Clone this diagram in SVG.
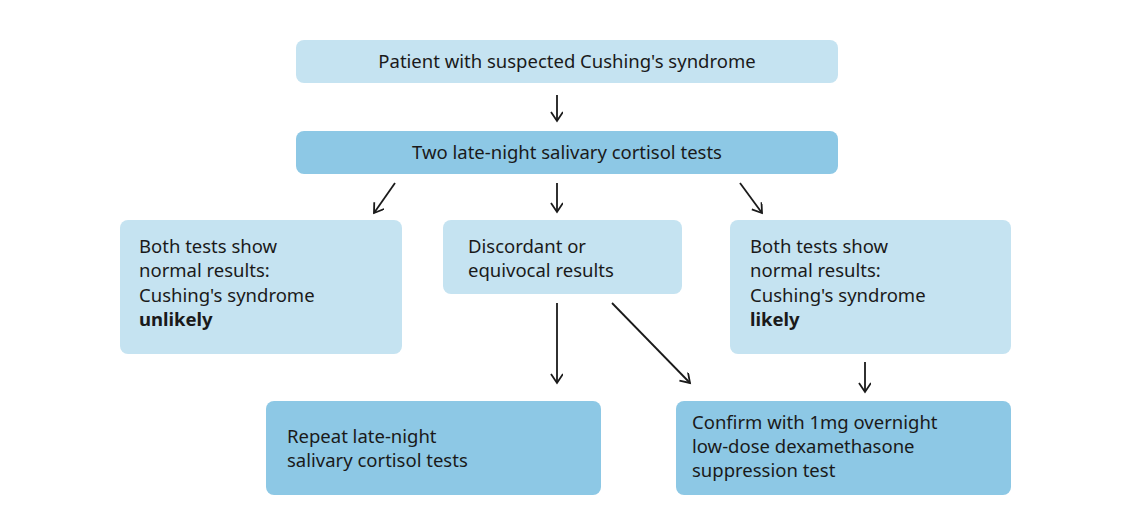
<svg xmlns="http://www.w3.org/2000/svg" width="1138" height="529" viewBox="0 0 1138 529">
<style>
.l{fill:#c5e3f1}.d{fill:#8dc8e5}
text{font-family:"Noto Sans","Liberation Sans",sans-serif;font-size:18.5px;fill:#1a1a1a}
.c{stroke:#1a1a1a;stroke-width:1.8;fill:none}
</style>
<defs><marker id="a" markerWidth="14" markerHeight="14" refX="10" refY="6" orient="auto" markerUnits="userSpaceOnUse"><path d="M1,0 L10,6 L1,12" fill="none" stroke="#1a1a1a" stroke-width="1.8"/></marker></defs>
<rect width="1138" height="529" fill="#fff"/>
<g id="n1"><rect class="l" x="296" y="40" width="542" height="43" rx="8"/><text x="567" y="68" text-anchor="middle">Patient with suspected Cushing's syndrome</text></g>
<g id="n2"><rect class="d" x="296" y="131" width="542" height="43" rx="8"/><text x="567" y="159" text-anchor="middle">Two late-night salivary cortisol tests</text></g>
<g id="n3"><rect class="l" x="120" y="220" width="282" height="134" rx="8"/><text x="139" y="253">Both tests show</text><text x="139" y="277">normal results:</text><text x="139" y="302">Cushing's syndrome</text><text x="139" y="326" font-weight="bold">unlikely</text></g>
<g id="n4"><rect class="l" x="443" y="220" width="239" height="74" rx="8"/><text x="468" y="253">Discordant or</text><text x="468" y="277">equivocal results</text></g>
<g id="n5"><rect class="l" x="730" y="220" width="281" height="134" rx="8"/><text x="750" y="253">Both tests show</text><text x="750" y="277">normal results:</text><text x="750" y="302">Cushing's syndrome</text><text x="750" y="326" font-weight="bold">likely</text></g>
<g id="n6"><rect class="d" x="266" y="401" width="335" height="94" rx="8"/><text x="287" y="443">Repeat late-night</text><text x="287" y="467">salivary cortisol tests</text></g>
<g id="n7"><rect class="d" x="676" y="401" width="335" height="94" rx="8"/><text x="692" y="429">Confirm with 1mg overnight</text><text x="692" y="453">low-dose dexamethasone</text><text x="692" y="477">suppression test</text></g>
<g id="connectors" class="c">
<line x1="557" y1="95" x2="557" y2="121" marker-end="url(#a)"/>
<line x1="395" y1="183" x2="374" y2="213" marker-end="url(#a)"/>
<line x1="557" y1="183" x2="557" y2="212" marker-end="url(#a)"/>
<line x1="740" y1="183" x2="762" y2="213" marker-end="url(#a)"/>
<line x1="557" y1="303" x2="557" y2="383" marker-end="url(#a)"/>
<line x1="612" y1="303" x2="690" y2="383" marker-end="url(#a)"/>
<line x1="865" y1="362" x2="865" y2="392" marker-end="url(#a)"/>
</g>
</svg>
